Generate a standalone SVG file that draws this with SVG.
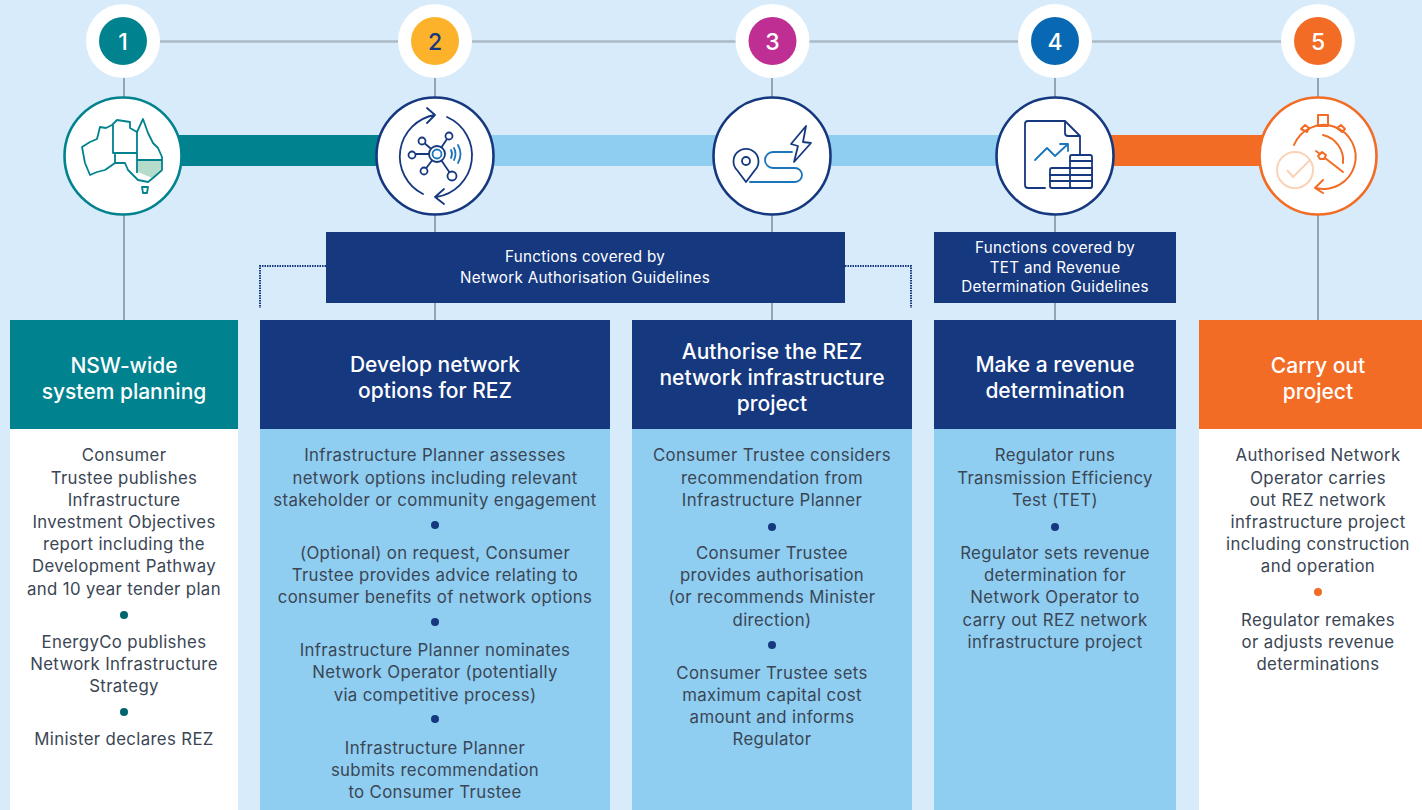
<svg xmlns="http://www.w3.org/2000/svg" width="1422" height="810" viewBox="0 0 1422 810">
<style>
text{font-family:"Inter","Liberation Sans",sans-serif;text-anchor:middle}
.b{font-size:16.8px;letter-spacing:.35px;fill:#3a4654;transform:translateY(.7px)}
.h{font-size:21px;font-weight:500;fill:#fff;transform:translateY(.8px)}
.s{font-size:15.2px;letter-spacing:.3px;fill:#fff}
.n{font-size:23px;font-weight:500;fill:#fff}
.i{fill:none;stroke:#15387f;stroke-width:1.8;stroke-linecap:round;stroke-linejoin:round}
.l{stroke:#1b75bb}
.t{fill:none;stroke:#00828f;stroke-width:1.8;stroke-linejoin:round}
.o{fill:none;stroke:#f36c26;stroke-width:2;stroke-linecap:round;stroke-linejoin:round}
.ring{fill:#fff;stroke-width:2.6}
.f{fill:#fff}
</style>
<rect width="1422" height="810" fill="#d8ebfa"/>
<g id="connectors">
<path d="M123 41.500H1318" stroke="#abbac6" stroke-width="2.400" fill="none"/>
<path d="M124 70V320M435 70V320M772 70V320M1055 70V320M1318 70V320" stroke="#7d8e9b" stroke-width="1.500" fill="none"/>
<rect x="123" y="135" width="312" height="31" fill="#00828f"/>
<rect x="435" y="135" width="620" height="31" fill="#8fcdf1"/>
<rect x="1055" y="135" width="263" height="31" fill="#f36c26"/>
<path d="M326 266H260V308M845 266H911V308" fill="none" stroke="#15387f" stroke-width="2" stroke-dasharray="1.500 1"/>
</g>
<g id="step-1">
<circle cx="123" cy="41" r="37" fill="#fff"/><circle cx="123" cy="41" r="24" fill="#00828f"/><text class="n" x="123" y="49.500">1</text>
<circle class="ring" cx="123" cy="156" r="58.500" stroke="#00828f"/>
<path d="M138 160H162V168L152 178L138 172Z" fill="#b5dccb"/>
<path class="t" d="M82 147L90 142L97 139L100 127L106 128L112 125L117 120L130 122V128L137 132L143 119L148 133L153 143L158 148L162 157V170L153 178L148 182L138 180L133 175L128 170L125 163L115 163L105 170L97 172L90 175L85 163Z"/>
<path class="t" d="M113 125V153H137M115 153V163M137 132V173M137 160H162"/>
<path class="t" d="M142 187H148L147 193H143Z"/>
</g>
<g id="step-2">
<circle cx="435" cy="41" r="37" fill="#fff"/><circle cx="435" cy="41" r="24" fill="#fdb22b"/><text class="n" x="435" y="49.500" style="fill:#15387f">2</text>
<circle class="ring" cx="435" cy="156" r="58.500" stroke="#15387f"/>
<path class="i" d="M423 194A42 42 0 0 1 435 115M427 108L435 115L427 123M447 117A42 42 0 0 1 436 197M444 189L435 197L444 204"/>
<path class="i" d="M437 154L422 141M437 154L449 136M437 154H412M437 154L424 171M437 154L452 176"/>
<circle class="i f" cx="422" cy="141" r="3.500"/><circle class="i f" cx="449" cy="136" r="3.500"/><circle class="i f" cx="412" cy="155" r="3.500"/><circle class="i f" cx="424" cy="171" r="3.500"/><circle class="i f" cx="452" cy="176" r="4.500"/>
<circle cx="437" cy="154" r="8" fill="#fff" stroke="#15387f" stroke-width="1.800"/><circle cx="437" cy="154" r="4.500" fill="#fff" stroke="#1b75bb" stroke-width="1.800"/>
<path class="i l" d="M451 150Q453 154 451 158M454 148Q457 154 454 160M458 145Q463 154 458 163"/>
</g>
<g id="step-3">
<circle cx="772.500" cy="41" r="37" fill="#fff"/><circle cx="772.500" cy="41" r="24" fill="#bf2f93"/><text class="n" x="772.500" y="49.500">3</text>
<circle class="ring" cx="772" cy="156" r="58.500" stroke="#15387f"/>
<path class="i" d="M746 182L737 170A12.500 12.500 0 1 1 755 170Z"/>
<circle class="i" cx="746" cy="161" r="4"/>
<path class="i l" d="M750 182H795A7 7 0 0 0 795 168H773A8 8 0 0 1 773 152H792"/>
<path class="i" d="M806 126L791 144L798 146L794 162L811 143L803 142Z"/>
</g>
<g id="step-4">
<circle cx="1055" cy="41" r="37" fill="#fff"/><circle cx="1055" cy="41" r="24" fill="#0868b3"/><text class="n" x="1055" y="49.500">4</text>
<circle class="ring" cx="1055" cy="156" r="58.500" stroke="#15387f"/>
<path class="i" d="M1045 188H1028Q1025 188 1025 185V124Q1025 121 1028 121H1065L1080 136V155M1065 122V133Q1065 136 1068 136H1080"/>
<path class="i l" d="M1035 160L1047 148L1055 156L1068 144M1060 144H1068V151"/>
<rect class="i" x="1050" y="168" width="42" height="20" rx="2"/>
<rect class="i f" x="1070" y="155" width="22" height="33" rx="2"/>
<path class="i" d="M1050 175H1092M1050 181H1092M1070 161H1092M1070 168H1092"/>
</g>
<g id="step-5">
<circle cx="1318" cy="41" r="37" fill="#fff"/><circle cx="1318" cy="41" r="24" fill="#f36c26"/><text class="n" x="1318" y="49.500">5</text>
<circle class="ring" cx="1318" cy="156" r="58.500" stroke="#f36c26"/>
<path class="o" d="M1294 145A32 32 0 1 1 1316 188M1323 180L1315 188L1323 193M1323 135A26 26 0 0 1 1343 163M1316 151L1343 172"/>
<rect class="o" x="1318" y="115" width="10" height="11"/>
<path class="o" d="M1301 129L1305 125L1309 128L1307 132ZM1337 128L1341 125L1345 129L1342 132Z"/>
<path class="o" d="M1322 152L1326 155L1324 159L1320 159L1318 156Z" style="fill:#fff"/>
<circle cx="1295" cy="170" r="18" fill="none" stroke="#fbd2b6" stroke-width="2"/>
<path d="M1287 170L1293 177L1310 160" fill="none" stroke="#fbd2b6" stroke-width="2"/>
</g>
<g id="guidelines-a"><rect x="326" y="232" width="519" height="71" fill="#15387f"/>
<text class="s"><tspan x="585" y="262">Functions covered by</tspan><tspan x="585" y="283">Network Authorisation Guidelines</tspan></text></g>
<g id="guidelines-b"><rect x="934" y="232" width="242" height="71" fill="#15387f"/>
<text class="s"><tspan x="1055" y="253">Functions covered by</tspan><tspan x="1055" y="273">TET and Revenue</tspan><tspan x="1055" y="292">Determination Guidelines</tspan></text></g>
<g id="col-1"><rect x="10" y="429" width="228" height="381" fill="#fff"/><rect x="10" y="320" width="228" height="109" fill="#00828f"/>
<text class="h"><tspan x="124" y="372">NSW-wide</tspan><tspan x="124" y="398">system planning</tspan></text>
<text class="b"><tspan x="124" y="460">Consumer</tspan><tspan x="124" y="483">Trustee publishes</tspan><tspan x="124" y="505">Infrastructure</tspan><tspan x="124" y="527">Investment Objectives</tspan><tspan x="124" y="549">report including the</tspan><tspan x="124" y="571">Development Pathway</tspan><tspan x="124" y="594">and 10 year tender plan</tspan><tspan x="124" y="647">EnergyCo publishes</tspan><tspan x="124" y="669">Network Infrastructure</tspan><tspan x="124" y="691">Strategy</tspan><tspan x="124" y="744">Minister declares REZ</tspan></text>
<circle cx="124" cy="615" r="4" fill="#00666e"/><circle cx="124" cy="712" r="4" fill="#00666e"/></g>
<g id="col-2"><rect x="260" y="429" width="350" height="381" fill="#8fcdf1"/><rect x="260" y="320" width="350" height="109" fill="#15387f"/>
<text class="h"><tspan x="435" y="371">Develop network</tspan><tspan x="435" y="397">options for REZ</tspan></text>
<text class="b"><tspan x="435" y="460">Infrastructure Planner assesses</tspan><tspan x="435" y="483">network options including relevant</tspan><tspan x="435" y="505">stakeholder or community engagement</tspan><tspan x="435" y="558">(Optional) on request, Consumer</tspan><tspan x="435" y="580">Trustee provides advice relating to</tspan><tspan x="435" y="602">consumer benefits of network options</tspan><tspan x="435" y="655">Infrastructure Planner nominates</tspan><tspan x="435" y="677">Network Operator (potentially</tspan><tspan x="435" y="700">via competitive process)</tspan><tspan x="435" y="753">Infrastructure Planner</tspan><tspan x="435" y="775">submits recommendation</tspan><tspan x="435" y="797">to Consumer Trustee</tspan></text>
<circle cx="435" cy="525" r="4" fill="#15387f"/><circle cx="435" cy="622" r="4" fill="#15387f"/><circle cx="435" cy="719" r="4" fill="#15387f"/></g>
<g id="col-3"><rect x="632" y="429" width="280" height="381" fill="#8fcdf1"/><rect x="632" y="320" width="280" height="109" fill="#15387f"/>
<text class="h"><tspan x="772" y="358">Authorise the REZ</tspan><tspan x="772" y="384">network infrastructure</tspan><tspan x="772" y="410">project</tspan></text>
<text class="b"><tspan x="772" y="460">Consumer Trustee considers</tspan><tspan x="772" y="483">recommendation from</tspan><tspan x="772" y="505">Infrastructure Planner</tspan><tspan x="772" y="558">Consumer Trustee</tspan><tspan x="772" y="580">provides authorisation</tspan><tspan x="772" y="602">(or recommends Minister</tspan><tspan x="772" y="625">direction)</tspan><tspan x="772" y="678">Consumer Trustee sets</tspan><tspan x="772" y="700">maximum capital cost</tspan><tspan x="772" y="722">amount and informs</tspan><tspan x="772" y="744">Regulator</tspan></text>
<circle cx="772" cy="527" r="4" fill="#15387f"/><circle cx="772" cy="645" r="4" fill="#15387f"/></g>
<g id="col-4"><rect x="934" y="429" width="242" height="381" fill="#8fcdf1"/><rect x="934" y="320" width="242" height="109" fill="#15387f"/>
<text class="h"><tspan x="1055" y="371">Make a revenue</tspan><tspan x="1055" y="397">determination</tspan></text>
<text class="b"><tspan x="1055" y="460">Regulator runs</tspan><tspan x="1055" y="483">Transmission Efficiency</tspan><tspan x="1055" y="505">Test (TET)</tspan><tspan x="1055" y="558">Regulator sets revenue</tspan><tspan x="1055" y="580">determination for</tspan><tspan x="1055" y="602">Network Operator to</tspan><tspan x="1055" y="625">carry out REZ network</tspan><tspan x="1055" y="647">infrastructure project</tspan></text>
<circle cx="1055" cy="527" r="4" fill="#15387f"/></g>
<g id="col-5"><rect x="1199" y="429" width="223" height="381" fill="#fff"/><rect x="1199" y="320" width="223" height="109" fill="#f36c26"/>
<text class="h"><tspan x="1318" y="372">Carry out</tspan><tspan x="1318" y="398">project</tspan></text>
<text class="b"><tspan x="1318" y="460">Authorised Network</tspan><tspan x="1318" y="483">Operator carries</tspan><tspan x="1318" y="505">out REZ network</tspan><tspan x="1318" y="527">infrastructure project</tspan><tspan x="1318" y="549">including construction</tspan><tspan x="1318" y="571">and operation</tspan><tspan x="1318" y="625">Regulator remakes</tspan><tspan x="1318" y="647">or adjusts revenue</tspan><tspan x="1318" y="669">determinations</tspan></text>
<circle cx="1318" cy="592" r="4" fill="#f36c26"/></g>
</svg>
